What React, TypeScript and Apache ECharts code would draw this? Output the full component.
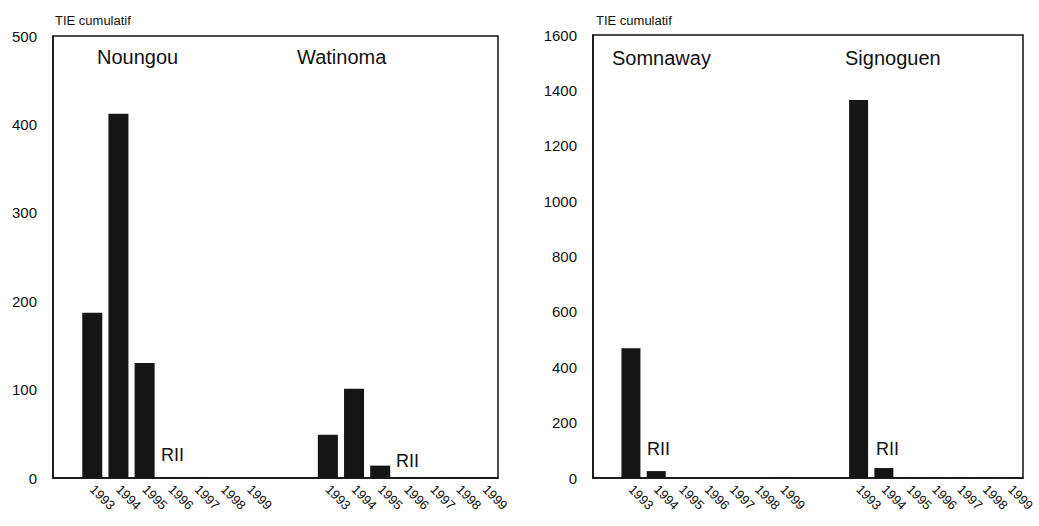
import React, { useEffect, useRef } from "react";
import * as echarts from "echarts";

const years = ["1993", "1994", "1995", "1996", "1997", "1998", "1999"];
const noungou = [187, 412, 130, 1, 1, 0, 0];
const watinoma = [49, 101, 14, 1, 1, 1, 1];
const somnaway = [469, 25, 0, 0, 0, 0, 3];
const signoguen = [1365, 36, 2, 2, 2, 2, 2];
const leftTicks = { min: 0, max: 500, interval: 100 };
const rightTicks = { min: 0, max: 1600, interval: 200 };
const groupNames = ["Noungou", "Watinoma", "Somnaway", "Signoguen"];
const yTitle = "TIE cumulatif";
const noteLabel = "RII";

const categories = ["", ...years, "", "", ...years];
const blank = ["-"];
const pad2 = ["-", "-"];
const build = (a: number[], b: number[]) => [...blank, ...a, ...pad2, ...b];

const FONT = "Liberation Sans";

export default function App() {
  const ref = useRef<HTMLDivElement>(null);
  useEffect(() => {
    if (!ref.current) return;
    const chart = echarts.init(ref.current, undefined, { renderer: "svg" });
    const xAxisBase = (gridIndex: number) => ({
      type: "category" as const,
      gridIndex,
      data: categories,
      axisLine: { lineStyle: { color: "#111", width: 1.5 } },
      axisTick: { show: false },
      axisLabel: {
        interval: 0,
        rotate: -45,
        fontSize: 13,
        fontFamily: FONT,
        color: "#111",
        margin: 9,
      },
    });
    const yAxisBase = (gridIndex: number, t: any) => ({
      type: "value" as const,
      gridIndex,
      min: t.min,
      max: t.max,
      interval: t.interval,
      splitLine: { show: false },
      axisTick: { show: false },
      axisLine: { show: true, lineStyle: { color: "#111", width: 1.5 } },
      axisLabel: {
        fontSize: 15,
        fontFamily: FONT,
        color: "#111",
        margin: 16,
        formatter: (v: number) => String(v),
      },
    });
    const textEl = (x: number, y: number, text: string, size: number) => ({
      type: "text",
      x,
      y,
      style: {
        text,
        fontSize: size,
        fontFamily: FONT,
        fill: "#111",
        textVerticalAlign: "middle",
      },
    });
    chart.setOption({
      animation: false,
      backgroundColor: "#fff",
      grid: [
        { left: 53, right: 541, top: 36, bottom: 48, show: true, borderColor: "#111", borderWidth: 1.5 },
        { left: 593, right: 16, top: 35, bottom: 48, show: true, borderColor: "#111", borderWidth: 1.5 },
      ],
      xAxis: [xAxisBase(0), xAxisBase(1)],
      yAxis: [yAxisBase(0, leftTicks), yAxisBase(1, rightTicks)],
      series: [
        {
          type: "bar",
          xAxisIndex: 0,
          yAxisIndex: 0,
          data: build(noungou, watinoma),
          barWidth: 20,
          itemStyle: { color: "#151515" },
        },
        {
          type: "bar",
          xAxisIndex: 1,
          yAxisIndex: 1,
          data: build(somnaway, signoguen),
          barWidth: 19,
          itemStyle: { color: "#151515" },
        },
      ],
      graphic: [
        textEl(55, 20, yTitle, 13),
        textEl(596, 20, yTitle, 13),
        textEl(97, 57, groupNames[0], 20),
        textEl(297, 57, groupNames[1], 20),
        textEl(612, 58, groupNames[2], 20),
        textEl(845, 58, groupNames[3], 20),
        textEl(161, 455, noteLabel, 18),
        textEl(396, 461, noteLabel, 18),
        textEl(647, 449, noteLabel, 18),
        textEl(876, 449, noteLabel, 18),
      ],
    });
    return () => chart.dispose();
  }, []);
  return (
    <div
      ref={ref}
      style={{ position: "fixed", left: 0, top: 0, width: 1039, height: 526 }}
    />
  );
}
